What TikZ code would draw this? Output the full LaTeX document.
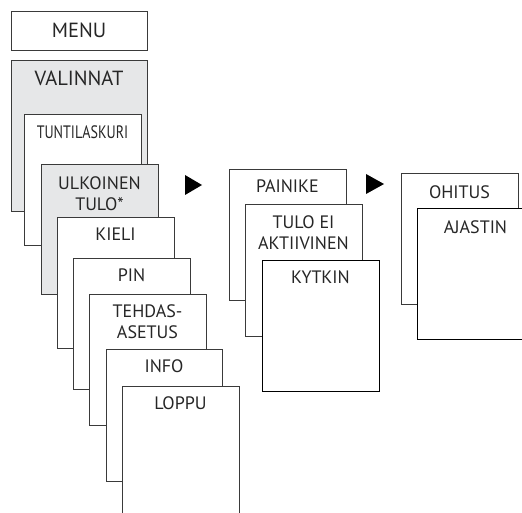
\documentclass[tikz,border=0pt]{standalone}
\usepackage{fontspec}
\setmainfont{PT Sans}
\usetikzlibrary{positioning}
\definecolor{boxgray}{HTML}{E6E7E8}
\definecolor{edge}{HTML}{3A3A3A}
\tikzset{
  box/.style={draw=edge, line width=0.9pt, fill=white, rectangle, inner sep=0pt, outer sep=0pt,
    minimum width=117pt, minimum height=131pt, anchor=north west},
  graybox/.style={box, fill=boxgray},
  txt/.style={anchor=north, inner sep=0pt, align=center, font=\fontsize{18}{21}\selectfont, text=black!85},
  bigtxt/.style={txt, font=\fontsize{20.5}{24}\selectfont},
  tri/.style={fill=black}
}
\begin{document}
\begin{tikzpicture}[x=1pt,y=-1pt]
\useasboundingbox (0,0) rectangle (522,513);
\clip (0,0) rectangle (522,513);
% MENU
\node[box, minimum width=136pt, minimum height=39pt] (menu) at (11,11) {};
\node[bigtxt, anchor=center] (menu-t) at (menu.center) {MENU};
% left column
\node[graybox, minimum width=136pt, minimum height=151pt] (valinnat) at (11,60) {};
\node[bigtxt] (valinnat-t) at ([yshift=-10.5pt]valinnat.north) {VALINNAT};
\node[box] (tunti) at (24,114) {};
\node[txt] (tunti-t) at ([yshift=-11pt]tunti.north) {\scalebox{0.78}[1]{TUNTILASKURI}};
\node[graybox, minimum height=130pt] (ulk) at (41,164) {};
\node[txt] (ulk-t) at ([yshift=-12pt]ulk.north) {ULKOINEN\\TULO*};
\node[box] (kieli) at (57,217) {};
\node[txt] (kieli-t) at ([yshift=-11pt]kieli.north) {KIELI};
\node[box] (pin) at (73,258) {};
\node[txt] (pin-t) at ([yshift=-11pt]pin.north) {PIN};
\node[box] (tehdas) at (89,294) {};
\node[txt] (tehdas-t) at ([yshift=-10.5pt]tehdas.north) {TEHDAS-\\ASETUS};
\node[box, minimum width=116pt, minimum height=132pt] (info) at (106,349) {};
\node[txt] (info-t) at ([yshift=-10.5pt]info.north) {INFO};
\node[box, minimum height=150pt] (loppu) at (122,386) {};
\node[txt] (loppu-t) at ([yshift=-10pt]loppu.north) {LOPPU};
% middle column
\node[box] (painike) at (229,169) {};
\node[txt] (painike-t) at ([yshift=-11pt]painike.north) {PAINIKE};
\node[box, minimum height=132pt] (tuloei) at (245,204) {};
\node[txt] (tuloei-t) at ([yshift=-11pt]tuloei.north) {TULO EI\\AKTIIVINEN};
\node[box, draw=black] (kytkin) at (262,260) {};
\node[txt] (kytkin-t) at ([yshift=-10.5pt]kytkin.north) {KYTKIN};
% right column
\node[box] (ohitus) at (401,173) {};
\node[txt] (ohitus-t) at ([yshift=-12pt]ohitus.north) {OHITUS};
\node[box, draw=black] (ajastin) at (417,208) {};
\node[txt] (ajastin-t) at ([yshift=-12.5pt]ajastin.north) {AJASTIN};
% arrows
\fill[tri] (185,175) -- (202,185) -- (185,195) -- cycle;
\fill[tri] (366,174) -- (384,184) -- (366,194) -- cycle;
\end{tikzpicture}
\end{document}
